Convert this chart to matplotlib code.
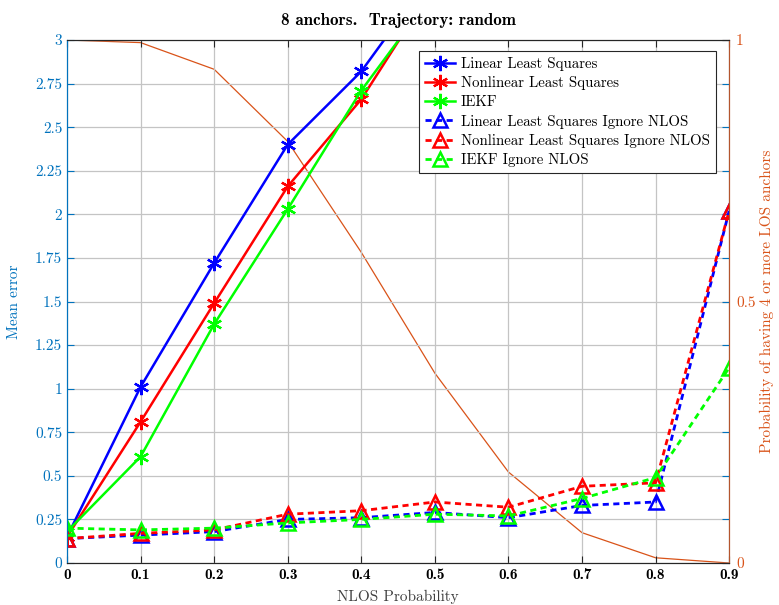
import numpy as np
import matplotlib
matplotlib.use('Agg')
import matplotlib.pyplot as plt

plt.rcParams['font.family'] = ['cmr10', 'DejaVu Serif']

# --- Data ---
nlos_prob = [0, 0.1, 0.2, 0.3, 0.4, 0.5, 0.6, 0.7, 0.8, 0.9]

lls   = [0.15, 1.01, 1.72, 2.40, 2.82, 3.40, 4.0, 4.6, 5.2, 5.8]
nlls  = [0.15, 0.81, 1.49, 2.16, 2.66, 3.32, 3.9, 4.5, 5.1, 5.7]
iekf  = [0.18, 0.61, 1.37, 2.03, 2.71, 3.28, 3.9, 4.5, 5.1, 5.7]

lls_ign  = [0.14, 0.16, 0.18, 0.25, 0.26, 0.29, 0.26, 0.33, 0.35, 2.02]
nlls_ign = [0.14, 0.17, 0.19, 0.28, 0.30, 0.35, 0.32, 0.44, 0.46, 2.02]
iekf_ign = [0.20, 0.19, 0.20, 0.23, 0.25, 0.28, 0.27, 0.37, 0.49, 1.12]

p_los4 = [1.0, 0.995, 0.944, 0.806, 0.594, 0.363, 0.174, 0.058, 0.010, 0.0]

x_ticks   = [0, 0.1, 0.2, 0.3, 0.4, 0.5, 0.6, 0.7, 0.8, 0.9]
x_labels  = ['0', '0.1', '0.2', '0.3', '0.4', '0.5', '0.6', '0.7', '0.8', '0.9']
y_ticks   = [0, 0.25, 0.5, 0.75, 1, 1.25, 1.5, 1.75, 2, 2.25, 2.5, 2.75, 3]
y_labels  = ['0', '0.25', '0.5', '0.75', '1', '1.25', '1.5', '1.75', '2',
             '2.25', '2.5', '2.75', '3']
y2_ticks  = [0, 0.5, 1]
y2_labels = ['0', '0.5', '1']

# --- Styles ---
BLUE_AX = '#0072BD'
ORANGE  = '#D95319'
star = (6, 2, 0)

fig = plt.figure(figsize=(7.79, 6.05), dpi=100, facecolor='white')
ax = fig.add_axes([0.086, 0.0694, 0.850, 0.8645])
ax2 = ax.twinx()
ax.set_zorder(ax2.get_zorder() + 1)
ax.patch.set_visible(False)

# right axis: probability curve
ax2.plot(nlos_prob, p_los4, color=ORANGE, linewidth=0.9)
ax2.set_ylim(0, 1)
ax2.set_yticks(y2_ticks)
ax2.set_yticklabels(y2_labels, color=ORANGE, fontsize=11)
ax2.tick_params(axis='y', direction='in', colors=ORANGE, length=5, pad=5)
ax2.set_ylabel('Probability of having 4 or more LOS anchors', color=ORANGE,
               fontsize=11, labelpad=3)

# left axis: mean error curves
solid = dict(linewidth=1.8, markersize=11, markeredgewidth=1.6)
dash  = dict(linewidth=2.0, markersize=10.5, markeredgewidth=1.8,
             linestyle=(0, (2.2, 1.6)), markerfacecolor='none')

ax.plot(nlos_prob, lls,  color='#0000FF', marker=star, label='Linear Least Squares', **solid)
ax.plot(nlos_prob, nlls, color='#FF0000', marker=star, label='Nonlinear Least Squares', **solid)
ax.plot(nlos_prob, iekf, color='#00FF00', marker=star, label='IEKF', **solid)
ax.plot(nlos_prob, lls_ign,  color='#0000FF', marker='^', label='Linear Least Squares Ignore NLOS', **dash)
ax.plot(nlos_prob, nlls_ign, color='#FF0000', marker='^', label='Nonlinear Least Squares Ignore NLOS', **dash)
ax.plot(nlos_prob, iekf_ign, color='#00FF00', marker='^', label='IEKF Ignore NLOS', **dash)

ax.set_xlim(0, 0.9)
ax.set_ylim(0, 3)
ax.set_xticks(x_ticks)
ax.set_xticklabels(x_labels, fontsize=11, family='cmb10')
ax.set_yticks(y_ticks)
ax.set_yticklabels(y_labels, fontsize=11, color=BLUE_AX)
ax.tick_params(axis='y', direction='in', colors=BLUE_AX, right=True, length=5)
ax.tick_params(axis='x', direction='in', top=True, length=5, color='#262626')
ax.grid(True, color='#c4c4c4', linewidth=0.9)
ax2.grid(False)

ax.set_xlabel('NLOS Probability', fontsize=11, color='#404040', labelpad=6)
ax.set_ylabel('Mean error', fontsize=11, color=BLUE_AX, labelpad=10)
ax.set_title('8 anchors.  Trajectory: random', fontsize=12.3, family='cmb10', pad=11)

for a in (ax, ax2):
    a.spines['top'].set_color('#262626')
    a.spines['bottom'].set_color('#262626')
    a.spines['left'].set_color(BLUE_AX)
    a.spines['right'].set_color('#B4552D')

leg = ax.legend(loc='upper right', bbox_to_anchor=(0.980, 0.979), borderaxespad=0,
                fontsize=10.7, frameon=True, fancybox=False, edgecolor='#262626',
                framealpha=1, numpoints=1, handlelength=2.0, handletextpad=0.4,
                labelspacing=0.36, borderpad=0.4)
leg.get_frame().set_linewidth(0.8)

plt.savefig('out.png', dpi=100, facecolor='white')
plt.close()
